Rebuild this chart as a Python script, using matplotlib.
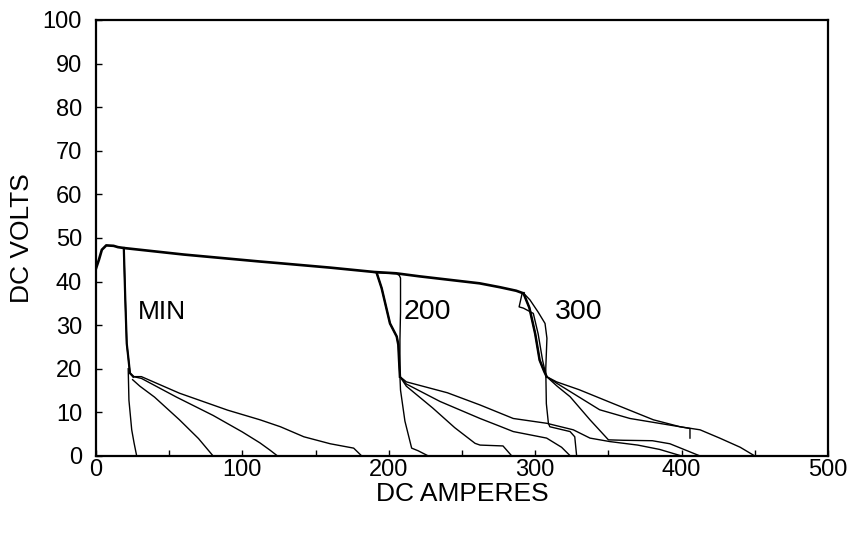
"""
DC volt-ampere curves for MIN, 200 and 300 settings
"""

import numpy as np
import matplotlib
matplotlib.use('Agg')
import matplotlib.pyplot as plt

plt.rcParams['font.family'] = ['Liberation Sans', 'DejaVu Sans']

# main open-circuit / load line shared by all settings
main_x = [0, 2, 4, 7, 12, 15, 19, 60, 112, 126, 160, 190, 205, 221, 262, 276, 287, 292]
main_y = [43, 45, 47.3, 48.3, 48.2, 47.9, 47.7, 46.2, 44.6, 44.2, 43.2, 42.2, 41.9, 41.2, 39.6, 38.7, 37.9, 37.3]

# MIN setting: drop and branches
min_drop_x = [19, 20, 21, 22, 23.2, 25.5]
min_drop_y = [47.7, 36, 25.8, 22.8, 19, 18.2]
min_vert_x = [22, 22.5, 24.4, 26, 27.8]
min_vert_y = [20, 12.8, 6, 3, 0]
min_b1_x = [25.5, 31, 57, 90, 112, 126, 142, 160, 176, 181.5]
min_b1_y = [18.2, 18.2, 14.4, 10.5, 8.3, 6.7, 4.4, 2.8, 1.8, 0]
min_b2_x = [25.5, 31, 55, 80, 100, 112, 119, 124]
min_b2_y = [18.2, 17.8, 13.5, 9.3, 5.5, 3, 1.3, 0]
min_b3_x = [25, 30, 40, 57, 70, 80]
min_b3_y = [17.5, 16, 13.5, 8.3, 4, 0]

# 200 setting
s200_drop_x = [191.7, 195.1, 200.8, 205.4, 206.5, 207, 207.6]
s200_drop_y = [42.0, 38.5, 30.4, 27.4, 25.5, 22, 18.2]
s200_vert_x = [190, 205.3, 207.2, 208, 208, 207.6, 207.6]
s200_vert_y = [42.1, 41.8, 41.4, 40.8, 33, 26.6, 18.5]
s200_a_x = [207.6, 208, 211, 215.6, 220, 227]
s200_a_y = [18.2, 15.1, 8, 1.8, 1.2, 0]
s200_b_x = [207.6, 212, 230, 245, 258.9, 262.3, 278, 284]
s200_b_y = [18.2, 16, 11, 6.5, 2.9, 2.5, 2.3, 0]
s200_c_x = [207.6, 212, 235, 262.3, 276, 285, 307.8, 318, 324]
s200_c_y = [18.2, 16.5, 12.5, 8.6, 6.8, 5.6, 4.1, 2, 0]
s200_d_x = [207.6, 212, 240, 262.3, 285, 307.8, 326, 337.4, 351, 370, 385, 400]
s200_d_y = [18.2, 17, 14.5, 11.7, 8.6, 7.5, 6.0, 4.1, 3.3, 2.5, 1.5, 0]

# 300 setting
s300_drop_x = [292, 296, 300, 303, 306, 307.8]
s300_drop_y = [37.3, 34, 28, 22, 19.5, 18.2]
s300_loop_x = [291, 289, 292, 298.7, 302, 305, 307]
s300_loop_y = [37.2, 34.2, 33.9, 32.7, 28, 22, 19]
s300_vert_x = [293, 296.4, 302, 306.7, 308, 307.2, 307.6, 309, 310, 323.8, 327, 328.3]
s300_vert_y = [37.0, 35.8, 33, 30.4, 27, 20, 12, 7.5, 6.7, 5.6, 4.4, 0]
s300_c1_x = [307.8, 315, 323.8, 337.4, 350, 360, 380, 392, 412.6]
s300_c1_y = [18.2, 16, 13.6, 8.3, 3.7, 3.6, 3.5, 2.8, 0]
s300_c2_x = [307.8, 314.6, 330, 344, 364.7, 398.9, 405.7, 405.7]
s300_c2_y = [18.2, 16.7, 13.5, 10.6, 8.6, 6.7, 6.3, 4.1]
s300_c3_x = [307.8, 314.6, 330, 353.4, 380.7, 399, 412.6, 426, 440, 450]
s300_c3_y = [18.2, 17, 15.2, 12, 8.3, 6.7, 6.0, 4.1, 2, 0]

thin_lines = [
    (min_drop_x, min_drop_y), (min_vert_x, min_vert_y),
    (min_b1_x, min_b1_y), (min_b2_x, min_b2_y), (min_b3_x, min_b3_y),
    (s200_drop_x, s200_drop_y), (s200_vert_x, s200_vert_y),
    (s200_a_x, s200_a_y), (s200_b_x, s200_b_y),
    (s200_c_x, s200_c_y), (s200_d_x, s200_d_y),
    (s300_drop_x, s300_drop_y), (s300_loop_x, s300_loop_y),
    (s300_vert_x, s300_vert_y), (s300_c1_x, s300_c1_y),
    (s300_c2_x, s300_c2_y), (s300_c3_x, s300_c3_y),
]

fig = plt.figure(figsize=(8.54, 5.36), dpi=100)
ax = fig.add_axes([0.1124, 0.1493, 0.8572, 0.8134])

ax.plot(main_x, main_y, color='black', lw=1.9)
# overlapping traces at the drops look heavier
ax.plot(min_drop_x, min_drop_y, color='black', lw=1.6)
ax.plot(s200_drop_x, s200_drop_y, color='black', lw=1.8)
ax.plot(s300_drop_x, s300_drop_y, color='black', lw=1.8)
for xs, ys in thin_lines:
    ax.plot(xs, ys, color='black', lw=1.0)

ax.text(28.7, 33, 'MIN', fontsize=19, va='center', ha='left')
ax.text(210, 33, '200', fontsize=20.5, va='center', ha='left')
ax.text(313.5, 33, '300', fontsize=20.5, va='center', ha='left')

ax.set_xlim(0, 500)
ax.set_ylim(0, 100)
ax.set_xticks(np.arange(0, 501, 100))
ax.set_xticks(np.arange(0, 501, 50), minor=True)
ax.set_yticks(np.arange(0, 101, 10))
ax.tick_params(which='both', direction='in', length=4.5, width=1.0,
               labelsize=17)
ax.tick_params(axis='x', pad=2)
ax.tick_params(axis='y', pad=10)
for sp in ax.spines.values():
    sp.set_linewidth(1.6)

ax.set_xlabel('DC AMPERES', fontsize=19, labelpad=1)
ax.set_ylabel('DC VOLTS', fontsize=19, labelpad=6)

plt.savefig('out.png', dpi=100)
plt.close()
